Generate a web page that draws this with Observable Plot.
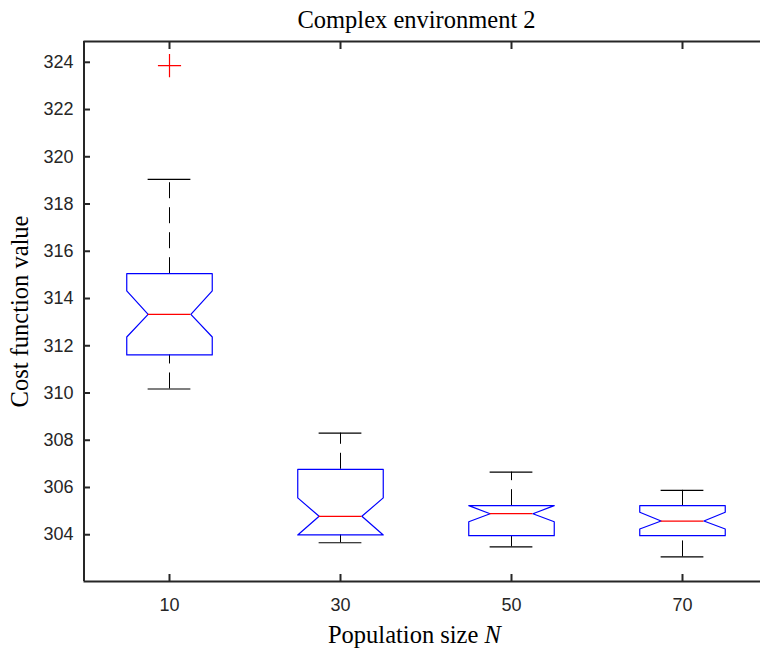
<!DOCTYPE html>
<html>
<head>
<meta charset="utf-8">
<script src="https://cdn.jsdelivr.net/npm/d3@7"></script>
<script src="https://cdn.jsdelivr.net/npm/@observablehq/plot@0.6"></script>
<style>
  html, body { margin: 0; padding: 0; background: white; overflow: hidden; }
</style>
</head>
<body>
<div id="chart"></div>
<script>
// Population sizes tested (one notched box per size)
const groups = ["10", "30", "50", "70"];

// Box statistics of the cost function value for each population size
const lowerWhisker = [310.17, 303.66, 303.49, 303.06];
const q1           = [311.61, 303.99, 303.96, 303.96];
const notchLow     = [312.37, 303.99, 304.55, 304.24];
const median       = [313.33, 304.78, 304.89, 304.58];
const notchHigh    = [314.32, 305.56, 305.23, 304.95];
const q3           = [315.05, 306.77, 305.23, 305.23];
const upperWhisker = [319.04, 308.30, 306.65, 305.88];

// Outliers beyond the whiskers
const outlierGroup = ["10"];
const outlierValue = [323.86];

// Y-axis tick values
const yTicks = [304, 306, 308, 310, 312, 314, 316, 318, 320, 322, 324];
const yDomain = [302.02, 324.88];
const xDomain = [0.5, 4.5];
const xTicks = [1, 2, 3, 4];

const halfWidth = 0.25;      // half box width (category units)
const notchInset = 0.125;    // notch depth
const capHalf = 0.125;       // whisker cap half-length

const pos = g => groups.indexOf(g) + 1;

const boxes = groups.map((g, i) => ({
  g, x: i + 1,
  lo: lowerWhisker[i], q1: q1[i], nlo: notchLow[i], med: median[i],
  nhi: notchHigh[i], q3: q3[i], hi: upperWhisker[i]
}));

// Outline of each notched box, traced as a closed polygon
const outline = boxes.flatMap(b => {
  const L = b.x - halfWidth, R = b.x + halfWidth;
  return [
    [L, b.q1], [L, b.nlo], [b.x - notchInset, b.med], [L, b.nhi], [L, b.q3],
    [R, b.q3], [R, b.nhi], [b.x + notchInset, b.med], [R, b.nlo], [R, b.q1], [L, b.q1]
  ].map(([x, y]) => ({g: b.g, x, y}));
});

const outliers = outlierGroup.map((g, i) => ({x: pos(g), y: outlierValue[i]}));

const axisColor = "#262626";
const sans = "'Liberation Sans', Arial, sans-serif";
const serif = "'Liberation Serif', 'Times New Roman', serif";
const tickLen = 7;

const chart = Plot.plot({
  width: 760,
  height: 651,
  marginTop: 41,
  marginBottom: 70,
  marginLeft: 83,
  marginRight: 11,
  style: {overflow: "hidden", background: "white"},
  x: {type: "linear", domain: xDomain, range: [83.5, 767.5]},
  y: {domain: yDomain},
  marks: [
    // axes frame (left, top, bottom)
    Plot.ruleX([xDomain[0]], {y1: yDomain[0], y2: yDomain[1], stroke: axisColor, strokeWidth: 2}),
    Plot.ruleY(yDomain, {x1: xDomain[0], x2: xDomain[1], stroke: axisColor, strokeWidth: 2}),

    // ticks, shifted to point into the plot area
    Plot.axisY({anchor: "left", ticks: yTicks, tickSize: tickLen, dx: tickLen, text: null, label: null, stroke: axisColor, strokeWidth: 2}),
    Plot.axisX({anchor: "bottom", ticks: xTicks, tickSize: tickLen, dy: -tickLen, text: null, label: null, stroke: axisColor, strokeWidth: 2}),
    Plot.axisX({anchor: "top", ticks: xTicks, tickSize: tickLen, dy: tickLen, text: null, label: null, stroke: axisColor, strokeWidth: 2}),

    // tick labels
    Plot.axisY({anchor: "left", ticks: yTicks, tickSize: 0, tickPadding: 10, label: null,
      fontSize: 18, fontFamily: sans, fill: axisColor}),
    Plot.axisX({anchor: "bottom", ticks: xTicks, tickFormat: d => groups[d - 1],
      tickSize: 0, tickPadding: 17, label: null, fontSize: 18, fontFamily: sans, fill: axisColor}),

    // whiskers (dashed), drawn from the lower end upward
    Plot.ruleX(boxes, {x: "x", y1: "q3", y2: "hi", stroke: "#000", strokeWidth: 1, strokeDasharray: "16,9"}),
    Plot.ruleX(boxes, {x: "x", y1: "lo", y2: "q1", stroke: "#000", strokeWidth: 1, strokeDasharray: "16,9"}),
    // whisker caps
    Plot.ruleY(boxes, {y: "hi", x1: d => d.x - capHalf, x2: d => d.x + capHalf, stroke: "#000", strokeWidth: 1.2}),
    Plot.ruleY(boxes, {y: "lo", x1: d => d.x - capHalf, x2: d => d.x + capHalf, stroke: "#000", strokeWidth: 1.2}),

    // notched boxes
    Plot.line(outline, {x: "x", y: "y", z: "g", stroke: "#0000ff", strokeWidth: 1.2, curve: "linear"}),
    // medians
    Plot.ruleY(boxes, {y: "med", x1: d => d.x - notchInset, x2: d => d.x + notchInset, stroke: "#ff0000", strokeWidth: 1.2}),

    // outliers
    Plot.dot(outliers, {x: "x", y: "y", symbol: "plus", r: 7.5, stroke: "#ff0000", strokeWidth: 1.2}),

    // title and axis labels
    Plot.text(["Complex environment 2"], {frameAnchor: "top", lineAnchor: "middle", textAnchor: "middle", dy: -21, fontSize: 24.5, fontFamily: serif, fill: "#000"}),
    Plot.text(["Population size "], {frameAnchor: "bottom", lineAnchor: "middle", textAnchor: "end", dx: 68, dy: 54, fontSize: 24.5, fontFamily: serif, fill: "#000"}),
    Plot.text(["N"], {frameAnchor: "bottom", lineAnchor: "middle", textAnchor: "start", dx: 68, dy: 54, fontSize: 24.5, fontFamily: serif, fontStyle: "italic", fill: "#000"}),
    Plot.text(["Cost function value"], {frameAnchor: "left", lineAnchor: "middle", textAnchor: "middle", rotate: -90, dx: -63, fontSize: 24.5, fontFamily: serif, fill: "#000"})
  ]
});

document.getElementById("chart").append(chart);
</script>
</body>
</html>
